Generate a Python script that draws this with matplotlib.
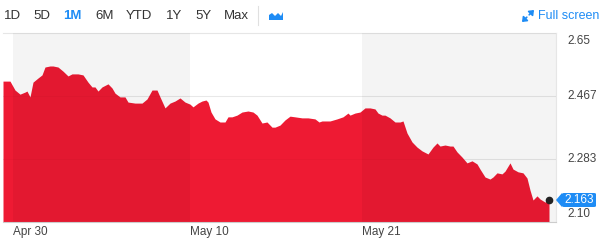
import matplotlib.pyplot as plt
from matplotlib.patches import Polygon, FancyBboxPatch, FancyArrowPatch

plt.rcParams['font.family'] = ['Liberation Sans', 'DejaVu Sans']

# sample positions along the month (chart time units) and yield values
t = [3, 10, 15, 20, 25, 27, 30, 33, 38, 42, 45, 50, 53, 58, 63, 68, 72, 78, 83, 88,
     92, 95, 98, 102, 108, 112, 115, 120, 125, 128, 135, 142, 147, 152, 157, 160, 165,
     170, 175, 180, 185, 190, 193, 198, 202, 206, 208, 211, 215, 220, 225, 228, 232,
     237, 242, 248, 253, 257, 262, 267, 272, 275, 280, 285, 290, 295, 302, 308, 315,
     319, 322, 330, 337, 343, 348, 350, 355, 360, 365, 370, 375, 378, 382, 385, 390,
     395, 400, 403, 407, 412, 417, 422, 428, 433, 437, 440, 445, 450, 453, 457, 462,
     467, 472, 477, 480, 485, 490, 493, 497, 502, 505, 510, 513, 518, 523, 527, 530,
     533, 537, 540, 545, 549]
yields = [2.510, 2.510, 2.484, 2.472, 2.478, 2.481, 2.464, 2.507, 2.519, 2.528, 2.551,
          2.554, 2.554, 2.551, 2.539, 2.525, 2.531, 2.531, 2.528, 2.507, 2.493, 2.493,
          2.481, 2.493, 2.502, 2.490, 2.475, 2.464, 2.464, 2.449, 2.446, 2.446, 2.458,
          2.484, 2.484, 2.464, 2.432, 2.446, 2.452, 2.461, 2.449, 2.443, 2.435, 2.446,
          2.452, 2.455, 2.449, 2.420, 2.400, 2.391, 2.391, 2.406, 2.406, 2.411, 2.420,
          2.423, 2.420, 2.411, 2.388, 2.391, 2.376, 2.376, 2.382, 2.397, 2.408, 2.406,
          2.403, 2.403, 2.400, 2.391, 2.394, 2.394, 2.400, 2.406, 2.417, 2.411, 2.417,
          2.420, 2.432, 2.432, 2.429, 2.417, 2.411, 2.411, 2.403, 2.391, 2.391, 2.394,
          2.359, 2.333, 2.318, 2.307, 2.298, 2.318, 2.330, 2.321, 2.324, 2.321, 2.321,
          2.304, 2.289, 2.272, 2.278, 2.269, 2.254, 2.231, 2.225, 2.231, 2.243, 2.240,
          2.248, 2.272, 2.254, 2.246, 2.243, 2.228, 2.193, 2.164, 2.176, 2.167, 2.158,
          2.163]

date_pos = [13, 190, 362]
date_labels = ['Apr 30', 'May 10', 'May 21']
ytick_vals = [2.10, 2.283, 2.467, 2.65]
ytick_labels = ['2.10', '2.283', '2.467', '2.65']
ranges = ['1D', '5D', '1M', '6M', 'YTD', '1Y', '5Y', 'Max']
last_label = '2.163'

red = '#ee1a33'
blue = '#1e8cf5'

fig = plt.figure(figsize=(6, 2.43), dpi=100)
ax = fig.add_axes([3 / 600, 21 / 243, 553 / 600, 189 / 243])
ax.set_xlim(3, 556)
ax.set_ylim(2.10, 2.65)

ax.fill_between(t, yields, 2.10, color=red, lw=0, zorder=2)

# alternating shaded bands
ax.axvspan(date_pos[0], date_pos[1], color='black', alpha=0.045, lw=0, zorder=3)
ax.axvspan(date_pos[2], 556, color='black', alpha=0.045, lw=0, zorder=3)

for v in ytick_vals[1:3]:
    ax.axhline(v, color='#eeeeee', lw=0.8, zorder=1.5)
    ax.axhline(v, color='black', alpha=0.025, lw=0.8, zorder=4)

ax.spines['left'].set_visible(False)
ax.spines['top'].set_color('#e6e6e6')
ax.spines['right'].set_color('#e6e6e6')
ax.spines['bottom'].set_color('#cccccc')
ax.set_xticks([])
ax.set_yticks([])

ax.plot(t[-1], yields[-1], 'o', color='#222222', ms=4.5, zorder=6, clip_on=False)

for p, lab in zip(date_pos, date_labels):
    ax.text(p, -0.055, lab, transform=ax.get_xaxis_transform(), ha='left', va='center',
            fontsize=8.5, color='#444444')

vas = ['bottom', 'center', 'center', 'top']
for v, lab, va in zip(ytick_vals, ytick_labels, vas):
    off = 0.006 if va == 'bottom' else (-0.006 if va == 'top' else 0)
    ax.text(567, v + off, lab, ha='left', va=va, fontsize=8.5, color='#444444', clip_on=False)

# last price tag
tag = FancyBboxPatch((562 / 600, (243 - 207) / 243), 34 / 600, 14 / 243,
                     boxstyle='round,pad=0,rounding_size=0.004', transform=fig.transFigure,
                     color=blue, lw=0)
fig.patches.append(tag)
arrow = Polygon([(556 / 600, (243 - 200) / 243), (562 / 600, (243 - 193) / 243),
                 (562 / 600, (243 - 207) / 243)], closed=True, transform=fig.transFigure,
                color=blue, lw=0)
fig.patches.append(arrow)
fig.text(579 / 600, (243 - 200) / 243, last_label, ha='center', va='center',
         fontsize=8.5, color='white')

# range selector bar
xs = [4, 33, 63, 95, 126, 166, 195, 224]
for x, r in zip(xs, ranges):
    fig.text(x / 600, (243 - 16) / 243, r, ha='left', va='center', fontsize=9.5,
             color=blue if r == '1M' else '#333333',
             fontweight='bold' if r == '1M' else 'normal')
fig.add_artist(plt.Line2D([258 / 600, 258 / 600], [(243 - 25) / 243, (243 - 6) / 243],
                          transform=fig.transFigure, color='#e0e0e0', lw=0.8))
icon = Polygon([(269 / 600, (243 - 20) / 243), (269 / 600, (243 - 15) / 243),
                (272 / 600, (243 - 13) / 243), (275 / 600, (243 - 16) / 243),
                (278 / 600, (243 - 13) / 243), (281 / 600, (243 - 16) / 243),
                (283 / 600, (243 - 12) / 243), (283 / 600, (243 - 20) / 243)],
               closed=True, transform=fig.transFigure, color=blue, lw=0)
fig.patches.append(icon)

fig.text(599 / 600, (243 - 16) / 243, 'Full screen', ha='right', va='center',
         fontsize=9, color=blue)
# expand icon: two arrows pointing out from the centre
cx, cy = 528, 16
for dx, dy in [(6, -6), (-6, 6)]:
    a = FancyArrowPatch(((cx + dx * 0.2) / 600, (243 - cy - dy * 0.2) / 243),
                        ((cx + dx) / 600, (243 - cy - dy) / 243),
                        transform=fig.transFigure,
                        arrowstyle='-|>,head_length=2.5,head_width=2',
                        color=blue, lw=1.2, shrinkA=0, shrinkB=0)
    fig.patches.append(a)

fig.savefig('out.png', dpi=100)
